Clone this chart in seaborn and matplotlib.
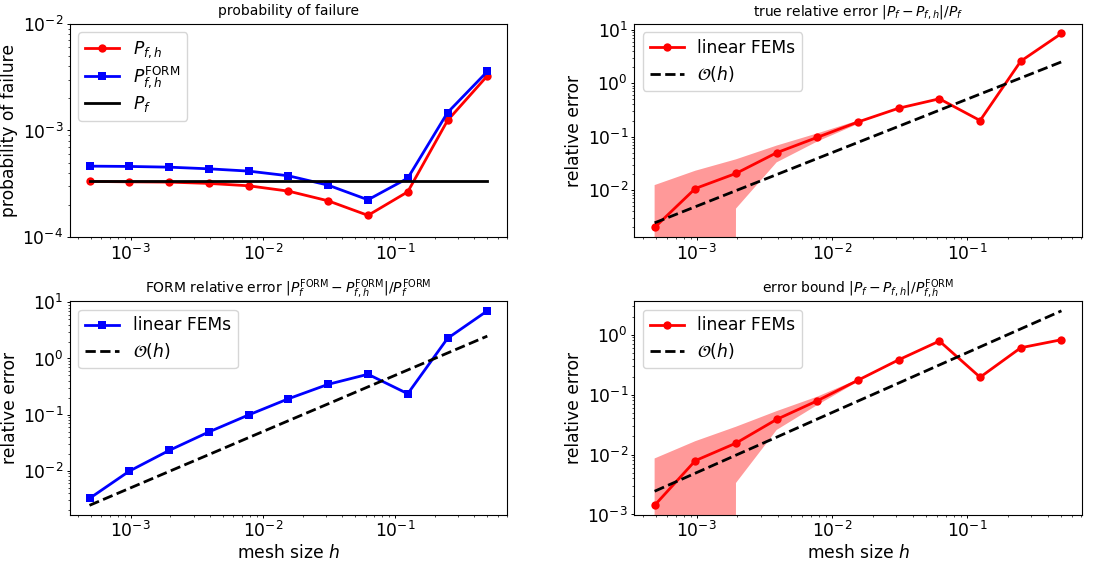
import numpy as np
import matplotlib
matplotlib.use("Agg")
import matplotlib.pyplot as plt
import seaborn as sns

# mesh sizes h = 2^-11 ... 2^-1
mesh_h = [4.8828125e-4, 9.765625e-4, 1.953125e-3, 3.90625e-3, 7.8125e-3,
          1.5625e-2, 3.125e-2, 6.25e-2, 0.125, 0.25, 0.5]

# probability of failure
pf_h = [3.33e-4, 3.30e-4, 3.28e-4, 3.19e-4, 3.03e-4, 2.70e-4, 2.19e-4, 1.60e-4,
        2.66e-4, 1.24e-3, 3.25e-3]
pf_h_form = [4.63e-4, 4.60e-4, 4.53e-4, 4.37e-4, 4.16e-4, 3.76e-4, 3.07e-4,
             2.24e-4, 3.57e-4, 1.47e-3, 3.57e-3]
pf_true = [3.35e-4] * 11

# relative errors
true_rel_err = [2.0e-3, 1.07e-2, 2.05e-2, 5.0e-2, 9.7e-2, 0.188, 0.34, 0.51,
                0.20, 2.58, 8.5]
form_rel_err = [3.24e-3, 9.9e-3, 2.31e-2, 4.93e-2, 9.9e-2, 0.192, 0.347, 0.524,
                0.236, 2.28, 7.04]
bound_err = [1.42e-3, 7.9e-3, 1.55e-2, 3.86e-2, 7.9e-2, 0.174, 0.381, 0.783,
             0.195, 0.605, 0.824]

# reference O(h) line
ref_oh = [2.44e-3, 4.88e-3, 9.77e-3, 1.95e-2, 3.91e-2, 7.81e-2, 0.156, 0.3125,
          0.625, 1.25, 2.5]

# confidence bands on the six finest meshes
band_h = mesh_h[:6]
true_lo = [0, 0, 4.5e-3, 3.3e-2, 8.1e-2, 0.173]
true_hi = [1.24e-2, 2.3e-2, 3.76e-2, 6.8e-2, 0.115, 0.20]
bound_lo = [0, 0, 3.35e-3, 2.57e-2, 6.7e-2, 0.165]
bound_hi = [8.6e-3, 1.67e-2, 2.91e-2, 5.3e-2, 9.25e-2, 0.18]

FS = 12.3

fig, axes = plt.subplots(2, 2, figsize=(11.05, 5.66), dpi=100)
ax1, ax2, ax3, ax4 = axes.flat
ax1.set_position([0.063, 0.581, 0.396, 0.377])
ax2.set_position([0.574, 0.581, 0.405, 0.377])
ax3.set_position([0.063, 0.090, 0.396, 0.378])
ax4.set_position([0.574, 0.090, 0.405, 0.378])

line_kw = dict(linewidth=2, markersize=6, markeredgewidth=0)

# probability of failure
sns.lineplot(x=mesh_h, y=pf_h, ax=ax1, color='red', marker='o',
             label=r'$P_{f,h}$', **line_kw)
sns.lineplot(x=mesh_h, y=pf_h_form, ax=ax1, color='blue', marker='s',
             label=r'$P_{f,h}^{\mathrm{FORM}}$', **line_kw)
sns.lineplot(x=mesh_h, y=pf_true, ax=ax1, color='black',
             label=r'$P_f$', linewidth=2)
ax1.set_ylim(1e-4, 1e-2)
ax1.set_title('probability of failure', fontsize=10)
ax1.set_ylabel('probability of failure', fontsize=FS)
ax1.legend(loc='upper left', fontsize=FS, labelspacing=0.25)

# true relative error
ax2.fill_between(band_h, true_lo, true_hi, color='red', alpha=0.4, linewidth=0)
sns.lineplot(x=mesh_h, y=true_rel_err, ax=ax2, color='red', marker='o',
             label='linear FEMs', **line_kw)
sns.lineplot(x=mesh_h, y=ref_oh, ax=ax2, color='black', linestyle='--',
             label=r'$\mathcal{O}(h)$', linewidth=2)
ax2.set_title(r'true relative error $|P_f - P_{f,h}|/P_f$', fontsize=10)
ax2.set_ylabel('relative error', fontsize=FS)
ax2.legend(loc='upper left', fontsize=FS, labelspacing=0.4)

# FORM relative error
sns.lineplot(x=mesh_h, y=form_rel_err, ax=ax3, color='blue', marker='s',
             label='linear FEMs', **line_kw)
sns.lineplot(x=mesh_h, y=ref_oh, ax=ax3, color='black', linestyle='--',
             label=r'$\mathcal{O}(h)$', linewidth=2)
ax3.set_title(r'FORM relative error $|P_f^{\mathrm{FORM}} - P_{f,h}^{\mathrm{FORM}}|/P_f^{\mathrm{FORM}}$',
              fontsize=10)
ax3.set_ylabel('relative error', fontsize=FS)
ax3.set_xlabel('mesh size $h$', fontsize=FS, labelpad=2)
ax3.legend(loc='upper left', fontsize=FS, labelspacing=0.4)

# error bound
ax4.fill_between(band_h, bound_lo, bound_hi, color='red', alpha=0.4, linewidth=0)
sns.lineplot(x=mesh_h, y=bound_err, ax=ax4, color='red', marker='o',
             label='linear FEMs', **line_kw)
sns.lineplot(x=mesh_h, y=ref_oh, ax=ax4, color='black', linestyle='--',
             label=r'$\mathcal{O}(h)$', linewidth=2)
ax4.set_title(r'error bound $|P_f - P_{f,h}|/P_{f,h}^{\mathrm{FORM}}$', fontsize=10)
ax4.set_ylabel('relative error', fontsize=FS)
ax4.set_xlabel('mesh size $h$', fontsize=FS, labelpad=2)
ax4.legend(loc='upper left', fontsize=FS, labelspacing=0.4)

for ax in axes.flat:
    ax.set_xscale('log')
    ax.set_yscale('log')
    ax.tick_params(labelsize=FS, pad=2)
    ax.tick_params(which='major', length=2.5, width=0.7)
    ax.tick_params(which='minor', length=1.5, width=0.5)
    ax.yaxis.labelpad = 3

fig.savefig('out.png', dpi=100)
